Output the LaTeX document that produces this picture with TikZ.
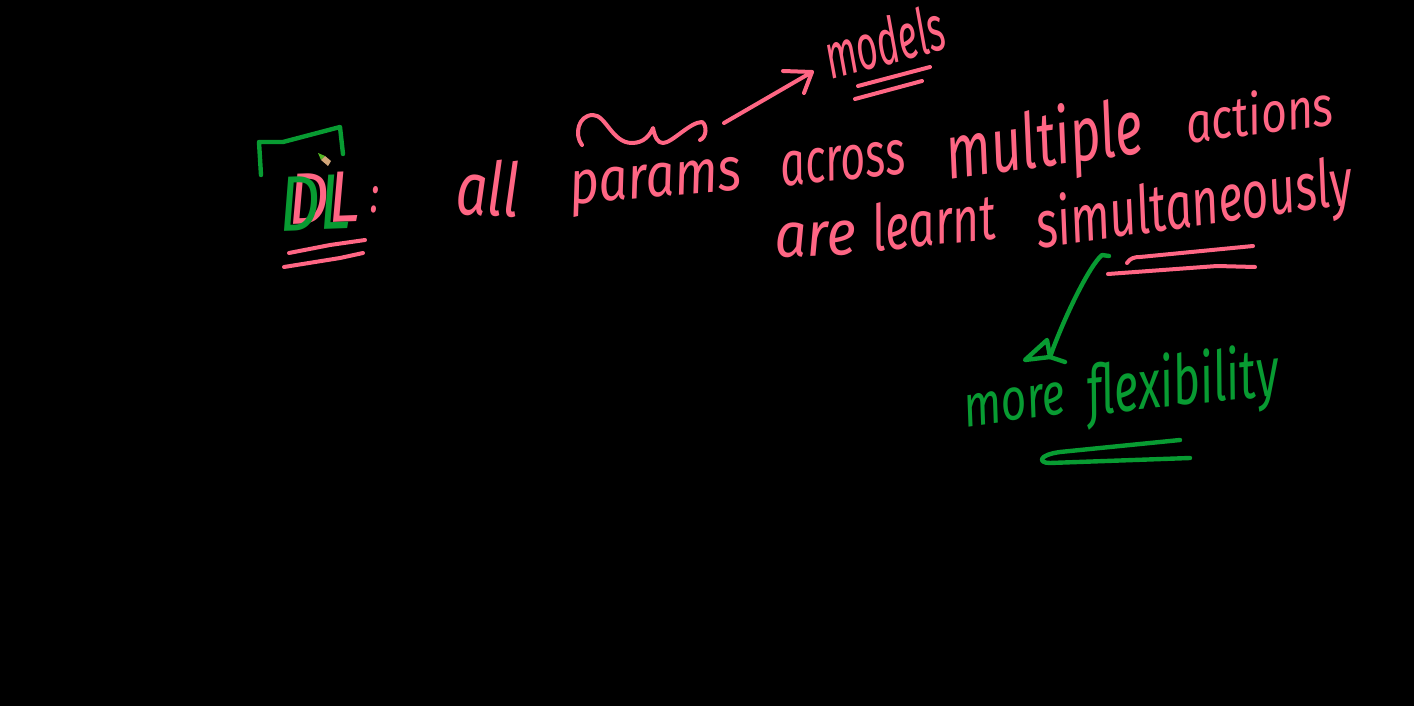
\documentclass[tikz,border=0pt]{standalone}
\usepackage{fontspec}
\usepackage{graphicx}
\setmainfont{Fira Sans}
\definecolor{inkpink}{RGB}{255,102,132}
\definecolor{inkgreen}{RGB}{8,155,50}
\newcommand{\hw}[3]{\resizebox{#1pt}{#2pt}{\itshape #3}}
\tikzset{
  word/.style={inner sep=0pt,outer sep=0pt,anchor=base,text=inkpink},
  gword/.style={word,text=inkgreen},
  pinkstroke/.style={draw=inkpink,line width=4pt,line cap=round,line join=round},
  greenstroke/.style={draw=inkgreen,line width=4.4pt,line cap=round,line join=round}
}
\begin{document}
\begin{tikzpicture}[x=1pt,y=-1pt]
\fill[black] (0,0) rectangle (1414,706);
\useasboundingbox (0,0) rectangle (1414,706);
% words
\node[word,rotate=2] (dlp) at (325,223) {\hw{72}{50}{DL}};
\node[word] (colon) at (375,212) {\hw{9}{26}{:}};
\node[word,rotate=-2] (all) at (487,216) {\hw{64}{56}{all}};
\node[word,rotate=5] (params) at (657,197) {\hw{172}{33}{params}};
\node[word,rotate=6] (across) at (845,180) {\hw{125}{34}{across}};
\node[word,rotate=8] (multiple) at (1048,166) {\hw{198}{60}{multiple}};
\node[word,rotate=7] (actions) at (1262,134) {\hw{148}{44}{actions}};
\node[word,rotate=2] (are) at (816,256) {\hw{82}{34}{are}};
\node[word,rotate=6] (learnt) at (936,245) {\hw{124}{48}{learnt}};
\node[word,rotate=8] (simul) at (1197,226) {\hw{318}{52}{simultaneously}};
\node[word,rotate=15] (models) at (890,64) {\hw{122}{48}{models}};
\node[gword,rotate=8] (more) at (1017,420) {\hw{102}{32}{more}};
\node[gword,rotate=6] (flex) at (1185,405) {\hw{192}{54}{flexibility}};
\node[gword,rotate=2] (dlg) at (316,230) {\hw{72}{54}{DL}};
% brace over params
\coordinate (bracestart) at (582,145);
\coordinate (braceend) at (700,140);
\draw[pinkstroke] (bracestart) .. controls (574,135) and (578,115) .. (593,115)
  .. controls (606,115) and (612,143) .. (632,143)
  .. controls (644,143) and (650,135) .. (653,128)
  .. controls (655,138) and (658,143) .. (663,143)
  .. controls (672,143) and (690,122) .. (702,122)
  .. controls (707,125) and (707,137) .. (braceend);
% arrow to models
\coordinate (atail) at (724,123);
\coordinate (ahead) at (812,72);
\coordinate (abarb1) at (783,71);
\coordinate (abarb2) at (804,93);
\draw[pinkstroke] (atail) -- (ahead);
\draw[pinkstroke] (abarb1) -- (ahead) -- (abarb2);
% underlines
\draw[pinkstroke] (858,86) -- (930,67);
\draw[pinkstroke] (922,81) -- (855,99);
\draw[pinkstroke] (289,253) -- (330,245) -- (365,240);
\draw[pinkstroke] (284,267) -- (340,258) -- (363,253);
\draw[pinkstroke] (1127,263) .. controls (1130,258) and (1135,257) .. (1140,257) -- (1253,246);
\draw[pinkstroke] (1108,274) -- (1217,266) -- (1255,267);
% green bracket
\draw[greenstroke] (261,175) -- (259,142) -- (283,142) -- (340,127) -- (343,154);
% pencil cursor
\fill[inkgreen!70!yellow] (318,153) -- (325,156) -- (321,160) -- cycle;
\fill[brown!70!white] (325,156) -- (331,161) -- (328,166) -- (321,160) -- cycle;
% green arrow
\coordinate (gtail) at (1109,256);
\coordinate (ghead) at (1050,357);
\draw[greenstroke] (gtail) -- (1102,255) .. controls (1090,265) and (1065,315) .. (ghead);
\draw[greenstroke] (1065,362) -- (ghead) -- (1025,360) -- (1047,340) -- (ghead);
% green underlines
\draw[greenstroke] (1180,440) -- (1060,452) .. controls (1038,455) and (1038,463) .. (1050,463) -- (1190,458);
\end{tikzpicture}
\end{document}
